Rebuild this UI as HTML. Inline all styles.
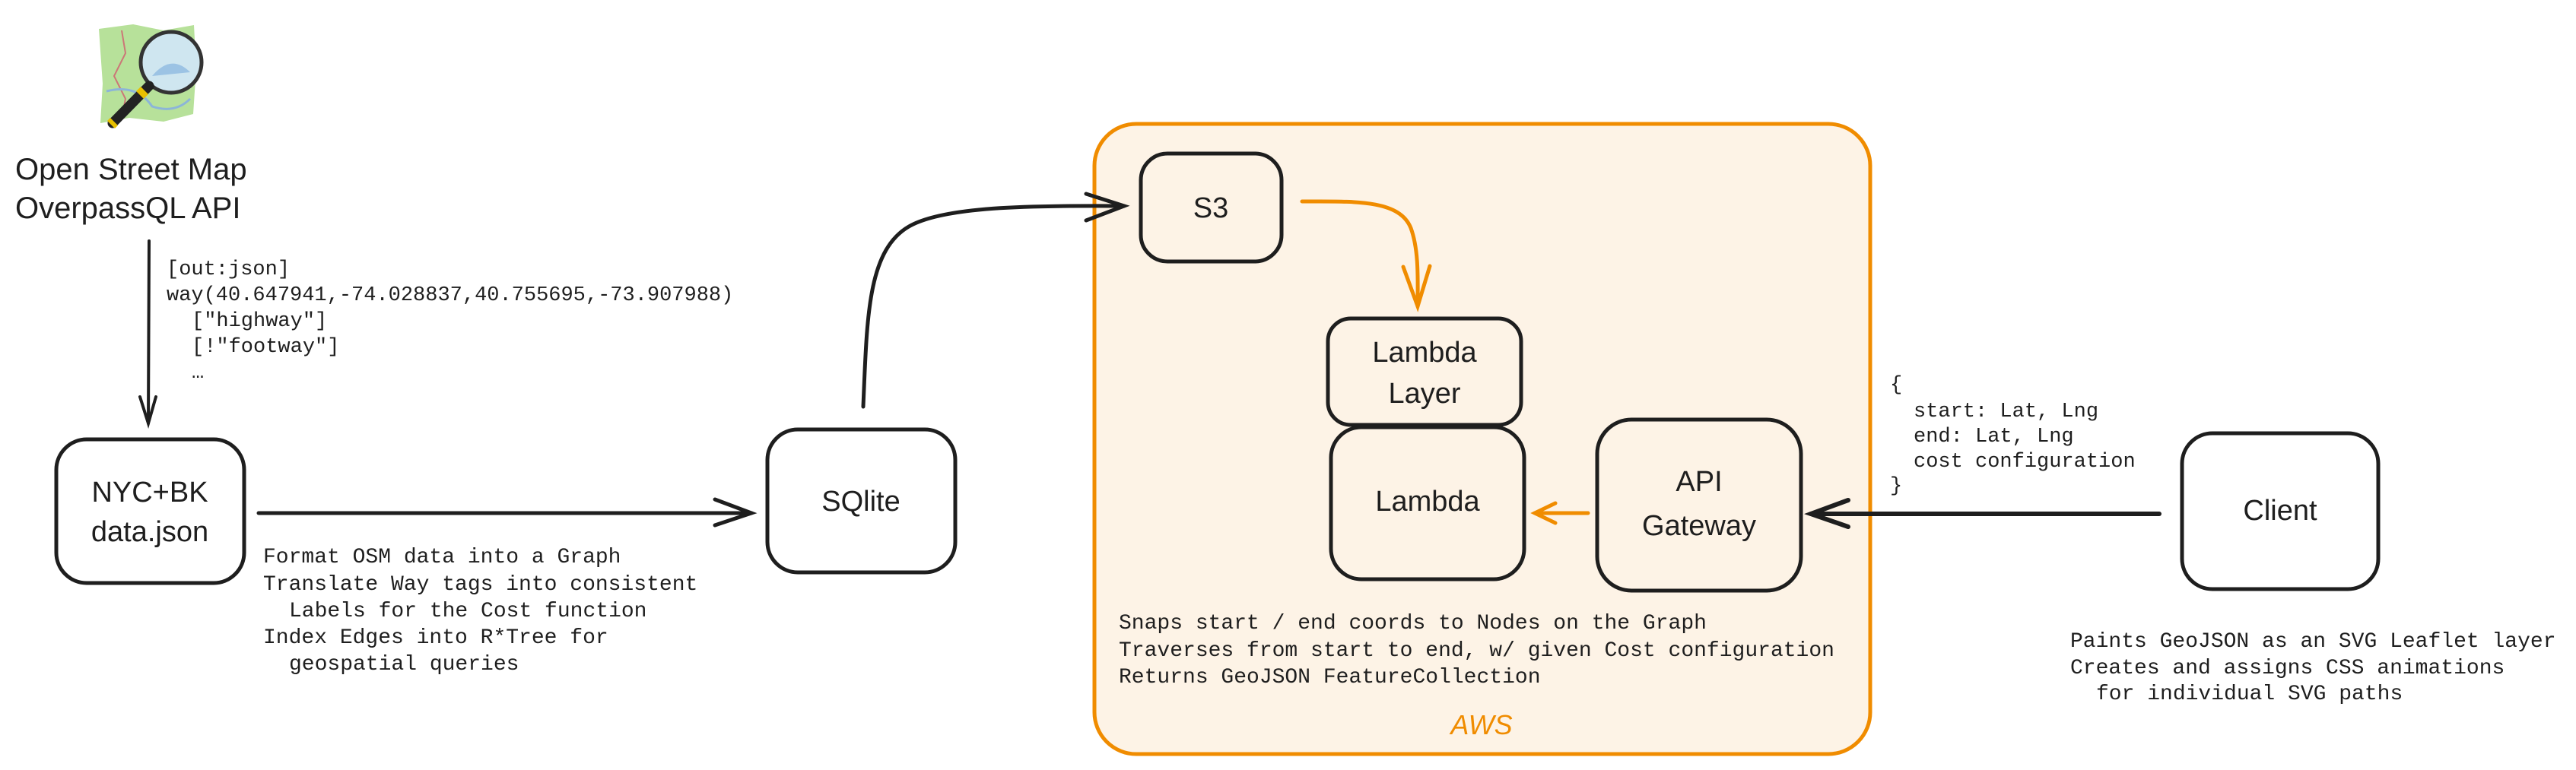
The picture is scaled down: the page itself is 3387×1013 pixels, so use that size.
<!DOCTYPE html>
<html><head><meta charset="utf-8"><style>
html,body{margin:0;padding:0;background:#fff;}
svg{display:block}
.hand{font-family:"Liberation Sans","DejaVu Sans",sans-serif;fill:#1e1e1e;}
.mono{font-family:"Liberation Mono","DejaVu Sans Mono",monospace;fill:#1e1e1e;font-size:27px;}
</style></head><body>
<svg width="3387" height="1013" viewBox="0 0 3387 1013" xmlns="http://www.w3.org/2000/svg">
<!-- OSM icon -->
<g>
<path d="M130 38 L175 32 L215 40 L255 33 L258 90 L254 150 L215 160 L170 155 L132 162 L135 110 Z" fill="#b7e19a"/>
<path d="M160 40 L165 70 L150 100 L165 130 L160 155" stroke="#c77" stroke-width="2" fill="none"/>
<path d="M140 120 Q180 110 200 140 Q230 150 250 130" stroke="#8cb5d8" stroke-width="3" fill="none"/>
<circle cx="225" cy="82" r="40" fill="#cfe6f0" stroke="#333" stroke-width="5"/>
<path d="M200 100 Q225 70 250 95" fill="#9cc3e4"/>
<line x1="196" y1="113" x2="148" y2="162" stroke="#222" stroke-width="13" stroke-linecap="round"/>
<line x1="190" y1="119" x2="184" y2="125" stroke="#e8c000" stroke-width="14"/>
<line x1="150" y1="160" x2="146" y2="164" stroke="#e8c000" stroke-width="14"/>
</g>
<text class="hand" x="20" y="236" font-size="40">Open Street Map</text>
<text class="hand" x="20" y="287" font-size="40">OverpassQL API</text>

<!-- vertical arrow -->
<g stroke="#1e1e1e" stroke-width="4" fill="none" stroke-linecap="round">
<path d="M196 317 L195 557"/>
<path d="M184 522 L195 557 L205 522"/>
</g>
<text class="mono" x="219" y="361">[out:json]</text>
<text class="mono" x="219" y="395">way(40.647941,-74.028837,40.755695,-73.907988)</text>
<text class="mono" x="252" y="429">["highway"]</text>
<text class="mono" x="252" y="463">[!"footway"]</text>
<text class="mono" x="252" y="497">…</text>

<!-- NYC box -->
<rect x="74" y="578" width="247" height="189" rx="40" fill="#fff" stroke="#1e1e1e" stroke-width="5"/>
<text class="hand" x="197" y="660" font-size="38" text-anchor="middle">NYC+BK</text>
<text class="hand" x="197" y="712" font-size="38" text-anchor="middle">data.json</text>

<!-- arrow NYC -> SQLite -->
<g stroke="#1e1e1e" stroke-width="5" fill="none" stroke-linecap="round">
<path d="M340 675 L988 675"/>
<path d="M940 657 L988 675 L940 691"/>
</g>
<text class="mono" x="346" y="740" font-size="28" style="font-size:28px">Format OSM data into a Graph</text>
<text class="mono" x="346" y="776" style="font-size:28px">Translate Way tags into consistent</text>
<text class="mono" x="380" y="811" style="font-size:28px">Labels for the Cost function</text>
<text class="mono" x="346" y="846" style="font-size:28px">Index Edges into R*Tree for</text>
<text class="mono" x="380" y="881" style="font-size:28px">geospatial queries</text>

<!-- SQLite -->
<rect x="1009" y="565" width="247" height="188" rx="40" fill="#fff" stroke="#1e1e1e" stroke-width="5"/>
<text class="hand" x="1132" y="672" font-size="38" text-anchor="middle">SQlite</text>

<!-- AWS -->
<rect x="1439" y="163" width="1020" height="829" rx="55" fill="#fdf3e6" stroke="#f08c00" stroke-width="5"/>
<text x="1948" y="966" font-size="36" text-anchor="middle" font-family="Liberation Sans, sans-serif" font-style="italic" fill="#f08c00">AWS</text>

<!-- curve SQLite->S3 -->
<g stroke="#1e1e1e" stroke-width="5" fill="none" stroke-linecap="round">
<path d="M1135 535 C1140 420 1140 330 1195 298 C1240 272 1350 270 1478 271"/>
<path d="M1428 255 L1478 271 L1428 290"/>
</g>

<!-- S3 -->
<rect x="1500" y="202" width="185" height="142" rx="35" fill="#fdf3e6" stroke="#1e1e1e" stroke-width="5"/>
<text class="hand" x="1592" y="286" font-size="38" text-anchor="middle">S3</text>

<!-- orange S3 -> layer -->
<g stroke="#f08c00" stroke-width="5" fill="none" stroke-linecap="round">
<path d="M1712 265 C1780 265 1840 262 1855 300 C1866 330 1864 370 1864 403"/>
<path d="M1845 351 L1864 403 L1880 350"/>
</g>

<!-- Lambda Layer -->
<rect x="1746" y="419" width="254" height="140" rx="30" fill="#fdf3e6" stroke="#1e1e1e" stroke-width="5"/>
<text class="hand" x="1873" y="476" font-size="38" text-anchor="middle">Lambda</text>
<text class="hand" x="1873" y="530" font-size="38" text-anchor="middle">Layer</text>

<!-- Lambda -->
<rect x="1750" y="562" width="254" height="200" rx="40" fill="#fdf3e6" stroke="#1e1e1e" stroke-width="5"/>
<text class="hand" x="1877" y="672" font-size="38" text-anchor="middle">Lambda</text>

<!-- API Gateway -->
<rect x="2100" y="552" width="268" height="225" rx="45" fill="#fdf3e6" stroke="#1e1e1e" stroke-width="5"/>
<text class="hand" x="2234" y="646" font-size="38" text-anchor="middle">API</text>
<text class="hand" x="2234" y="704" font-size="38" text-anchor="middle">Gateway</text>

<!-- orange API -> Lambda -->
<g stroke="#f08c00" stroke-width="5" fill="none" stroke-linecap="round">
<path d="M2088 675 L2018 675"/>
<path d="M2045 662 L2018 675 L2045 688"/>
</g>

<text class="mono" x="1471" y="827" style="font-size:28px">Snaps start / end coords to Nodes on the Graph</text>
<text class="mono" x="1471" y="863" style="font-size:28px">Traverses from start to end, w/ given Cost configuration</text>
<text class="mono" x="1471" y="898" style="font-size:28px">Returns GeoJSON FeatureCollection</text>

<!-- client arrow -->
<g stroke="#1e1e1e" stroke-width="6" fill="none" stroke-linecap="round">
<path d="M2839 676 L2381 676"/>
<path d="M2430 658 L2381 676 L2430 693"/>
</g>
<text class="mono" x="2485" y="513">{</text>
<text class="mono" x="2516" y="548">start: Lat, Lng</text>
<text class="mono" x="2516" y="581">end: Lat, Lng</text>
<text class="mono" x="2516" y="614">cost configuration</text>
<text class="mono" x="2485" y="646">}</text>

<!-- Client -->
<rect x="2869" y="570" width="258" height="205" rx="40" fill="#fff" stroke="#1e1e1e" stroke-width="5"/>
<text class="hand" x="2998" y="684" font-size="38" text-anchor="middle">Client</text>

<text class="mono" x="2722" y="851" style="font-size:28px">Paints GeoJSON as an SVG Leaflet layer</text>
<text class="mono" x="2722" y="886" style="font-size:28px">Creates and assigns CSS animations</text>
<text class="mono" x="2756" y="920" style="font-size:28px">for individual SVG paths</text>
</svg>
</body></html>
